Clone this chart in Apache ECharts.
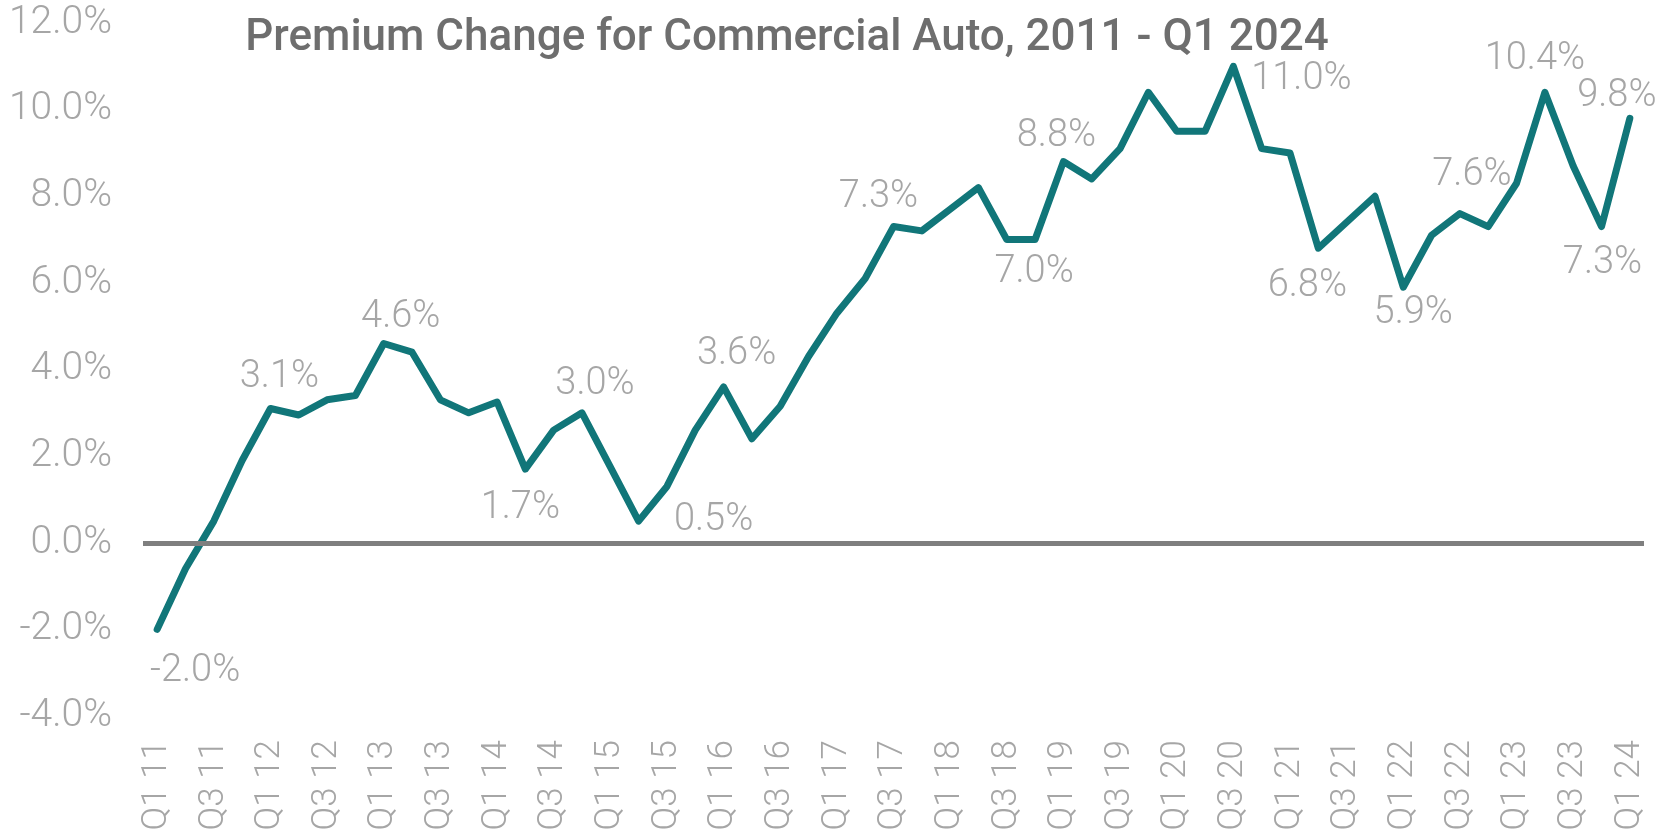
<!DOCTYPE html>
<html>
<head>
<meta charset="utf-8">
<title>Premium Change for Commercial Auto</title>
<script src="https://cdn.jsdelivr.net/npm/echarts@6/dist/echarts.min.js"></script>
<style>
  html, body { margin: 0; padding: 0; background: #ffffff; }
  #chart { width: 1663px; height: 835px; }
</style>
</head>
<body>
<div id="chart"></div>
<script>
// Quarterly premium change, commercial auto (percent)
const quarters = [
  'Q1 11','Q2 11','Q3 11','Q4 11',
  'Q1 12','Q2 12','Q3 12','Q4 12',
  'Q1 13','Q2 13','Q3 13','Q4 13',
  'Q1 14','Q2 14','Q3 14','Q4 14',
  'Q1 15','Q2 15','Q3 15','Q4 15',
  'Q1 16','Q2 16','Q3 16','Q4 16',
  'Q1 17','Q2 17','Q3 17','Q4 17',
  'Q1 18','Q2 18','Q3 18','Q4 18',
  'Q1 19','Q2 19','Q3 19','Q4 19',
  'Q1 20','Q2 20','Q3 20','Q4 20',
  'Q1 21','Q2 21','Q3 21','Q4 21',
  'Q1 22','Q2 22','Q3 22','Q4 22',
  'Q1 23','Q2 23','Q3 23','Q4 23',
  'Q1 24'
];

const premiumChange = [
  -2.0, -0.6, 0.5, 1.9,
   3.1, 2.95, 3.3, 3.4,
   4.6, 4.4, 3.3, 3.0,
   3.25, 1.7, 2.6, 3.0,
   1.75, 0.5, 1.3, 2.6,
   3.6, 2.4, 3.15, 4.3,
   5.3, 6.1, 7.3, 7.2,
   7.7, 8.2, 7.0, 7.0,
   8.8, 8.4, 9.1, 10.4,
   9.5, 9.5, 11.0, 9.1,
   9.0, 6.8, 7.4, 8.0,
   5.9, 7.1, 7.6, 7.3,
   8.3, 10.4, 8.7, 7.3,
   9.8
];

// Quarters whose value is printed next to the line
const labelledQuarters = ['Q1 11','Q1 12','Q1 13','Q2 14','Q4 14','Q2 15','Q1 16','Q3 17',
  'Q4 18','Q1 19','Q3 20','Q2 21','Q1 22','Q3 22','Q2 23','Q4 23','Q1 24'];

const yTicks = [-4, -2, 0, 2, 4, 6, 8, 10, 12];

// Where each printed value sits relative to its point (px)
const labelOffset = {
  'Q1 11': [38, 42],  'Q1 12': [9, -31],   'Q1 13': [17, -26],  'Q2 14': [-5, 39],
  'Q4 14': [13, -28], 'Q2 15': [75, -1],   'Q1 16': [13, -32],  'Q3 17': [-15, -29],
  'Q4 18': [-1, 33],  'Q1 19': [-7, -25],  'Q3 20': [68, 13],   'Q2 21': [-11, 38],
  'Q1 22': [10, 26],  'Q3 22': [12, -38],  'Q2 23': [-10, -33], 'Q4 23': [1, 37],
  'Q1 24': [-13, -22]
};

const labelFont = { fontFamily: 'Roboto', fontWeight: 300, fontSize: 38, color: '#a6a6a6' };

const seriesData = premiumChange.map(function (v, i) {
  const q = quarters[i];
  if (labelledQuarters.indexOf(q) === -1) return v;
  return {
    value: v,
    label: Object.assign({
      show: true,
      position: 'inside',
      align: 'center',
      verticalAlign: 'middle',
      offset: labelOffset[q],
      formatter: function (p) { return p.value.toFixed(1) + '%'; }
    }, labelFont)
  };
});

const chart = echarts.init(document.getElementById('chart'), null, { renderer: 'canvas' });

chart.setOption({
  animation: false,
  backgroundColor: '#ffffff',
  title: {
    text: 'Premium Change for Commercial Auto, 2011 - Q1 2024',
    left: 782,
    top: 12,
    textAlign: 'center',
    textStyle: {
      fontFamily: 'Roboto',
      fontWeight: 500,
      fontSize: 44,
      color: '#6e6e6e'
    }
  },
  grid: { left: 143, right: 19, top: 23, bottom: 119, containLabel: false },
  xAxis: {
    type: 'category',
    data: quarters,
    boundaryGap: true,
    axisLine: { show: false },
    axisTick: { show: false },
    splitLine: { show: false },
    axisLabel: {
      interval: 1,
      rotate: 90,
      margin: 24,
      fontFamily: 'Roboto',
      fontWeight: 300,
      fontSize: 35,
      color: '#a6a6a6'
    }
  },
  yAxis: {
    type: 'value',
    min: yTicks[0],
    max: yTicks[yTicks.length - 1],
    interval: yTicks[1] - yTicks[0],
    axisLine: { show: false },
    axisTick: { show: false },
    splitLine: { show: false },
    axisLabel: {
      margin: 31,
      fontFamily: 'Roboto',
      fontWeight: 300,
      fontSize: 39,
      color: '#a6a6a6',
      formatter: function (v) { return v.toFixed(1) + '%'; }
    }
  },
  series: [
    {
      // zero baseline
      type: 'line',
      data: [],
      z: 1,
      silent: true,
      markLine: {
        silent: true,
        symbol: 'none',
        label: { show: false },
        lineStyle: { color: '#7f7f7f', width: 5, type: 'solid' },
        data: [{ yAxis: 0 }]
      }
    },
    {
      type: 'line',
      name: 'Premium change',
      data: seriesData,
      z: 3,
      showSymbol: true,
      symbol: 'circle',
      symbolSize: 1,
      itemStyle: { color: 'rgba(0,0,0,0)' },
      lineStyle: { color: '#117679', width: 7, join: 'round', cap: 'round' },
      label: { show: false }
    }
  ]
});
</script>
</body>
</html>
